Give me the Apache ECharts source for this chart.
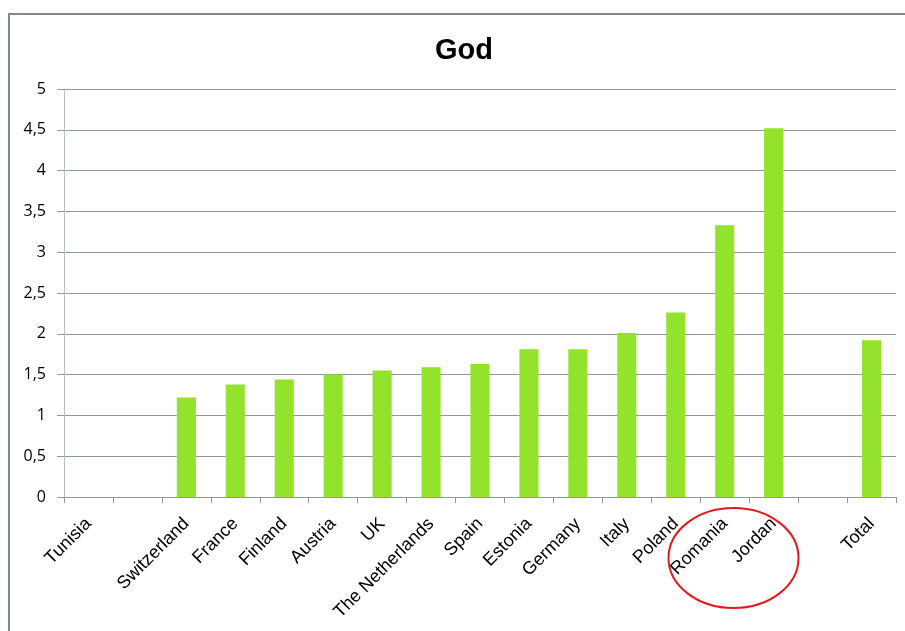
<!DOCTYPE html>
<html><head><meta charset="utf-8">
<script src="https://cdn.jsdelivr.net/npm/echarts@6/dist/echarts.min.js"></script>
<style>html,body{margin:0;padding:0;background:#fff}#c{width:905px;height:631px}</style>
</head><body><div id="c"></div>
<script>
const categories = ['Tunisia', '', 'Switzerland', 'France', 'Finland', 'Austria', 'UK', 'The Netherlands', 'Spain', 'Estonia', 'Germany', 'Italy', 'Poland', 'Romania', 'Jordan', '', 'Total'];
const values = [0, null, 1.22, 1.38, 1.44, 1.50, 1.55, 1.59, 1.63, 1.81, 1.81, 2.01, 2.26, 3.33, 4.52, null, 1.92];
const yTicks = { min: 0, max: 5, interval: 0.5 };

const chart = echarts.init(document.getElementById('c'), null, { renderer: 'canvas' });
chart.setOption({
  animation: false,
  title: { text: 'God', left: 430, top: 31, textStyle: { fontFamily: 'Liberation Sans, Arial', fontSize: 29, fontWeight: 'bold', color: '#000' } },
  grid: { left: 64, right: 9, top: 89, bottom: 134, containLabel: false },
  xAxis: {
    type: 'category', data: categories,
    axisLine: { lineStyle: { color: '#8e9a9a', width: 1 } },
    axisTick: { show: true, length: 6, lineStyle: { color: '#8e9a9a' } },
    axisLabel: { rotate: 45, interval: 0, margin: 24, fontFamily: 'Liberation Sans, Arial', fontSize: 18, color: '#000' }
  },
  yAxis: {
    type: 'value', min: yTicks.min, max: yTicks.max, interval: yTicks.interval,
    axisLine: { show: true, lineStyle: { color: '#b8c0c0' } },
    axisTick: { show: true, length: 7, lineStyle: { color: '#8e9a9a' } },
    splitLine: { lineStyle: { color: '#8e9a9a', width: 1 } },
    axisLabel: { fontFamily: 'Open Sans, Noto Sans, sans-serif', fontSize: 16, color: '#000', margin: 18, formatter: v => String(v).replace('.', ',') }
  },
  series: [{ type: 'bar', data: values, barWidth: '39%', itemStyle: { color: '#93e22b' } }],
  graphic: [
    { type: 'polyline', silent: true, shape: { points: [[9, 631], [9, 14], [905, 14]] }, style: { stroke: '#7f8b89', lineWidth: 2, fill: null } },
    { type: 'ellipse', silent: true, shape: { cx: 733.5, cy: 558, rx: 65, ry: 50 }, style: { stroke: '#e8191c', lineWidth: 2, fill: null } }
  ]
});
</script></body></html>
